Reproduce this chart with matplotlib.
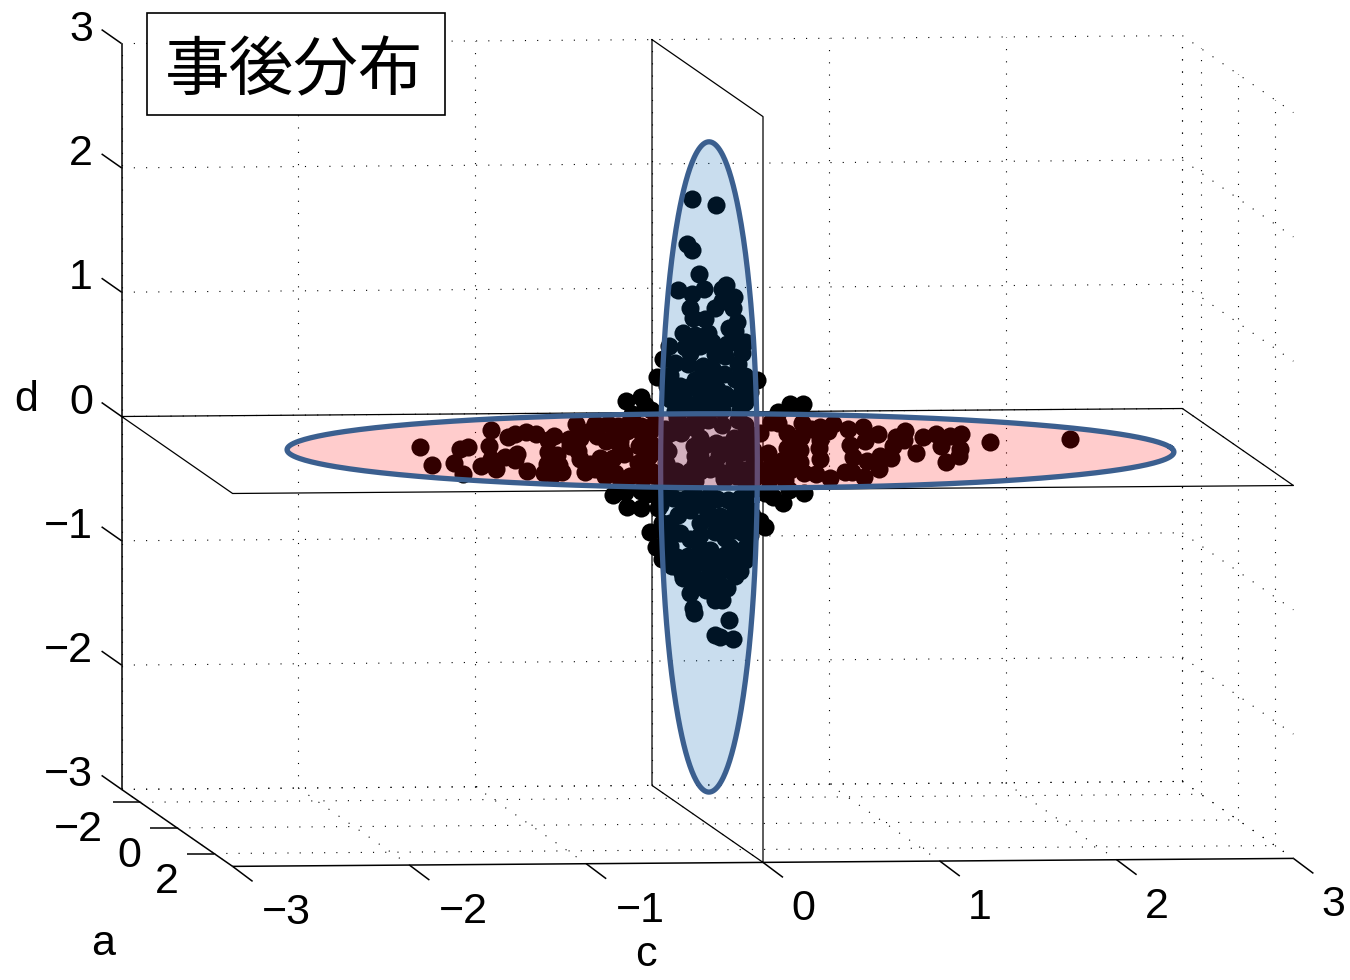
import numpy as np
import matplotlib
matplotlib.use('Agg')
import matplotlib.pyplot as plt
from matplotlib.patches import Rectangle

plt.rcParams['font.family'] = ['Liberation Sans', 'DejaVu Sans']

# axis ticks
a_ticks = [-2, 0, 2]
c_ticks = [-3, -2, -1, 0, 1, 2, 3]
d_ticks = [-3, -2, -1, 0, 1, 2, 3]
title = '事後分布'

# samples lying in the horizontal sheet (d = 0)
h_c = [-1.57, -1.65, -1.04, -1.51, -1.55, -1.37, -1.31, -1.18, -1.39, -1.33, -1.28, -1.18, -1.15, -1.09,
       -1.00, -0.94, -0.86, -0.82, -1.17, -0.80, -0.74, -0.90, -0.87, -1.00, -0.94, -1.09, -1.05, -0.98,
       -0.68, -0.52, -0.61, -0.73, -0.78, -0.85, -0.41, -0.34, -0.50, -0.38, -0.29, -0.66, -0.59, -0.49,
       -0.77, -0.70, -0.64, -0.49, -0.58, -0.49, -0.23, -0.08, -0.26, -0.28,
       -0.05, 0.06, 0.02, -0.12, 0.01, -0.88, -0.90, -0.83, -0.69, -0.65, -0.74, -0.79, -0.70,
       2.13, 1.65, 1.55, 1.48, 1.42, 1.32, 1.35, 1.43, 1.37, 1.25, 1.15, 1.27, 1.19, 1.17, 0.97, 1.08,
       0.81, 0.92, 1.09, 0.96, 0.81, 0.77, 0.84, 0.67, 0.64, 0.60, 1.06, 0.96, 0.92, 0.47, 0.57, 0.42,
       0.36, 0.20, 0.65, 0.83, 0.82, 0.76, 0.64, 0.47, 0.53, 0.62, 0.59, 0.59, 0.44, 0.32, 0.35, 0.14,
       0.22, 0.31, -0.02, -0.01, 0.00, 0.91, 0.84, 0.71, 0.14, -0.08,
       -0.06, 0.09, 0.11, 0.29, 0.06, 0.11, 0.25, 0.33, 0.26, 0.14, 0.03, -0.08, -0.05, 0.18, -0.20,
       -0.26, -0.09, -0.04, 0.17, -0.35, -0.13, -0.46, -0.33, -0.20, 0.42, 0.21, 0.05, -0.45, -0.30, -0.17,
       -0.70, -0.50, -0.41, -0.34, -0.49, -0.16, -0.19, -0.78, -0.37, -0.48, -0.37, -0.72, -0.06, 0.11,
       0.25, 0.42, -0.03, 0.14, 0.26, -0.13, 0.05, -0.17, 0.04, -0.42, -0.31, -0.04, 0.24, 0.11, 0.20,
       0.43, 0.75, 0.60, 0.72,
       0.00, -0.22, -0.11, -0.34, 0.03, -0.76, -0.65, -0.73, 0.43]
h_a = [-0.51, 0.90, -1.75, 0.74, 1.60, -0.27, -0.43, -0.51, 1.05, 1.29, 0.51, 0.35, 0.58, 0.12,
       -1.21, -1.44, -1.60, -1.44, 1.44, -0.97, -1.21, -0.04, 0.19, 0.90, 0.97, 1.60, 1.68, 1.52,
       -0.97, -2.14, -1.05, -0.04, 0.58, 1.52, -2.14, -2.14, -1.21, -1.44, -1.60, 0.51, 0.51, 0.19,
       1.83, 1.68, 1.91, 0.90, 2.07, 1.91, -1.36, -2.14, -0.58, -0.04,
       -3.94, -4.17, -3.55, -2.92, -3.16, 3.31, 4.25, 4.33, 3.31, 3.47, 4.40, 3.08, 3.08,
       -0.74, -0.51, -1.13, -1.05, -1.21, -0.97, -0.27, -0.04, 0.51, 0.97, 0.27, -1.44, -0.74, -0.97, 0.66, -0.27,
       1.52, 0.51, -1.21, -0.66, 0.90, 0.51, -0.35, 2.07, 1.68, 1.68, -1.75, -1.60, -1.99, 2.14, 0.66, 1.83,
       1.75, 3.31, -0.19, -1.44, -1.75, -2.14, -1.05, -0.19, -0.04, -2.14, -1.36, -2.22, -1.36, 0.19, 0.74, 1.75,
       1.68, 1.52, 3.31, 3.62, 4.09, -3.55, -3.55, -3.00, 3.08, 3.08,
       -1.75, -2.53, -1.75, -1.99, -0.97, -0.58, -0.97, -0.97, -0.04, 0.12, 0.35, 0.35, 0.90, 0.12, 1.52,
       1.52, 1.68, 1.91, 0.90, 2.14, 2.14, 2.14, 0.90, -0.43, -1.99, -2.38, 1.52, -0.43, -1.99, -1.99,
       -0.43, -1.60, -0.82, -0.43, -0.82, -1.60, -2.38, 1.36, 0.35, 1.52, 1.52, 2.14, -1.44, -1.99,
       -2.38, -2.38, -0.43, -0.43, -0.43, 1.36, 0.97, 0.97, 2.14, 2.30, 2.30, 2.46, 1.13, 2.30, 2.30,
       0.90, -1.60, -0.97, -0.82,
       -1.44, -0.04, 0.35, 1.52, -0.43, 0.90, 0.90, -0.43, 0.35]

# samples lying in the vertical sheet (c = 0)
v_a = [-0.84, 0.46, -1.11, -0.84, -0.46, -1.59, -0.84, -0.19, 1.00, 0.78, 1.43, -0.95, 0.78, 0.41, 1.38,
       -0.78, -0.14, 1.59, 1.16, -1.32, -0.68, 0.03, -2.08, -1.22, 0.24, 1.05, 1.65, -2.41, -1.76, -1.05,
       -0.24, 0.41, 0.95, 1.86, 1.65, -0.30, 0.89, -2.73, 2.68, 0.14, -2.19, -1.00, 1.86, 0.51, -0.41,
       -2.03, -1.22, -0.41, 0.41, 1.22, 2.03, -0.84, 0.78, 1.76, -1.76, 0.03,
       -1.86, -1.11, -0.30, 0.51, 1.76, -2.03, -1.59, -1.49, -0.95, -0.41, -0.03, 1.11, 1.92, 1.05, 1.76,
       0.95, 1.92, 2.03, 1.22, -0.41, -1.65, -1.05, -0.30, 0.51, 1.59, -1.38, -0.78, 0.14, 0.84, 1.49,
       -0.08, 1.05, 0.78, -0.95, -0.78, -0.73, 1.16, 0.41, 0.68, 1.38, 0.30, -1.32,
       -3.11, -2.78, 3.11, -2.46, -2.46, -2.57, 2.84, 2.41, 2.30, 2.03, -2.30, -1.92, -0.41, 0.41, 1.49, -0.95,
       -2.03, -1.49, -1.49, -0.68, -0.14, 0.95, 1.49, 2.03, 2.30, 0.24, -0.95, -0.41, 1.49, 2.03,
       -1.49, -0.68, 0.14, 2.30, -2.30, 0.41, 1.49, 0.68, 2.30, -0.41, -2.03, -1.22, 0.95, 0.14,
       2.19, 1.22, 1.76, -0.68, 0.68, 0.41, 2.03]
v_d = [1.94, 2.03, 1.55, 1.53, 1.38, 1.13, 1.18, 1.28, 1.44, 1.38, 1.39, 1.05, 1.29, 1.19, 1.29,
       0.99, 1.05, 1.20, 1.11, 0.81, 0.86, 0.95, 0.63, 0.71, 0.90, 0.97, 1.04, 0.49, 0.53, 0.59,
       0.66, 0.82, 0.86, 0.98, 0.87, 0.59, 0.71, 0.31, 0.85, 0.56, 0.30, 0.41, 0.68, 0.55, 0.43,
       0.21, 0.28, 0.35, 0.45, 0.55, 0.60, 0.24, 0.41, 0.51, 0.14, 0.33,
       -0.57, -0.49, -0.43, -0.33, -0.20, -0.79, -0.68, -0.81, -0.81, -0.62, -0.48, -0.28, -0.26, -0.47, -0.38,
       -0.60, -0.46, -0.57, -0.65, -0.82, -1.02, -0.95, -0.91, -0.80, -0.69, -1.12, -1.02, -0.94, -0.87, -0.85,
       -1.13, -0.99, -1.12, -1.24, -1.34, -1.38, -1.24, -1.44, -1.43, -1.37, -1.03, -1.16,
       -0.97, -1.06, -0.29, -1.12, -0.83, -0.70, -0.27, -0.27, -0.44, -0.67, -0.91, -1.12, -1.08, -0.52, -0.32, -0.57,
       0.40, 0.37, 0.27, 0.50, 0.43, 0.56, 0.73, 0.81, 0.71, 0.69, 0.69, 0.80, 1.12, 1.09,
       -0.55, -0.43, -0.34, -0.16, -0.59, -0.61, -0.48, -0.45, -0.32, -0.72, -0.97, -1.04, -0.74, -0.78,
       -0.57, -0.79, -0.78, -1.15, -1.01, -1.16, -0.43]

# ellipse centres and half widths
blue_a, blue_d, blue_sa, blue_sd, blue_tilt = 0.08, -0.12, 2.6, 2.63, 0.27
red_c, red_sc, red_sa = 0.13, 2.49, 2.88


# oblique view of the box, gives picture pixels
def project(a, c, d):
    a, c, d = np.asarray(a, float), np.asarray(c, float), np.asarray(d, float)
    x = 707.5 + 18.5 * a + 176.8 * c
    y = 451 + 12.83 * a - 1.33 * c - 124.3 * d
    return x, y


def line3(ax, a, c, d, **kw):
    x, y = project(a, c, d)
    ax.plot(x, y, **kw)


fig = plt.figure(figsize=(13.5, 9.8), dpi=100)
ax = fig.add_axes([0, 0, 1, 1])
ax.set_xlim(0, 1350)
ax.set_ylim(980, 0)
ax.axis('off')

# dotted grid on back wall, right wall and floor
grid = dict(color='black', lw=0.8, linestyle=(0, (1, 10)), zorder=1)
for d in d_ticks:
    line3(ax, [-3, -3], [-3, 3], [d, d], **grid)
    line3(ax, [-3, 3], [3, 3], [d, d], **grid)
for c in c_ticks:
    line3(ax, [-3, -3], [c, c], [-3, 3], **grid)
    line3(ax, [-3, 3], [c, c], [-3, -3], **grid)
for a in [-3] + a_ticks:
    line3(ax, [a, a], [3, 3], [-3, 3], **grid)
    line3(ax, [a, a], [-3, 3], [-3, -3], **grid)

# solid axis lines and ticks
solid = dict(color='black', lw=1.1, zorder=2, solid_capstyle='butt')
line3(ax, [-3, -3], [-3, -3], [-3, 3], **solid)
line3(ax, [-3, 3], [-3, -3], [-3, -3], **solid)
line3(ax, [3, 3], [-3, 3], [-3, -3], **solid)
for d in d_ticks:
    x, y = project(-3, -3, d)
    ax.plot([x, x - 20], [y, y - 14], **solid)
for c in c_ticks:
    x, y = project(3, c, -3)
    ax.plot([x, x + 20], [y, y + 15], **solid)
for a in a_ticks:
    x, y = project(a, -3, -3)
    ax.plot([x, x - 27], [y, y], **solid)

# the two sheets
sheet = dict(color='black', lw=0.9, zorder=2)
line3(ax, [-3, -3, 3, 3, -3], [-3, 3, 3, -3, -3], [0, 0, 0, 0, 0], **sheet)
line3(ax, [-3, 3, 3, -3, -3], [0, 0, 0, 0, 0], [3, 3, -3, -3, 3], **sheet)

# samples
x, y = project(h_a, h_c, np.zeros(len(h_c)))
ax.scatter(x, y, s=170, c='black', linewidths=0, zorder=3)
x, y = project(v_a, np.zeros(len(v_a)), v_d)
ax.scatter(x, y, s=170, c='black', linewidths=0, zorder=3)

# ellipses: blue first, red goes over its edge
t = np.linspace(0, 2 * np.pi, 400)
edge = '#3b5f8f'
x, y = project(blue_a + blue_sa * np.cos(t) + blue_tilt * np.sin(t), np.zeros_like(t), blue_d + blue_sd * np.sin(t))
ax.fill(x, y, color=(0, 0.39, 0.69), alpha=0.21, lw=0, zorder=4)
ax.plot(x, y, color=edge, lw=3.8, zorder=5)
x, y = project(red_sa * np.sin(t), red_c + red_sc * np.cos(t), np.zeros_like(t))
ax.fill(x, y, color=(1, 0, 0), alpha=0.2, lw=0, zorder=6)
ax.plot(x, y, color=edge, lw=3.8, zorder=7)

# tick labels
fs = 31
for d in d_ticks:
    x, y = project(-3, -3, d)
    ax.text(93, y - 14, str(d).replace('-', '\u2212'), fontsize=fs, ha='right', va='center')
for c in c_ticks:
    x, y = project(3, c, -3)
    ax.text(x + (54 if c < 0 else 40), y + 47, str(c).replace('-', '\u2212'), fontsize=fs, ha='center', va='center')
for a, (lx, ly) in zip(a_ticks, [(78, 830), (129, 856), (167, 882)]):
    ax.text(lx, ly, str(a).replace('-', '\u2212'), fontsize=fs, ha='center', va='center')
ax.text(26, 400, 'd', fontsize=fs, ha='center', va='center')
ax.text(103, 944, 'a', fontsize=fs, ha='center', va='center')
ax.text(646, 955, 'c', fontsize=fs, ha='center', va='center')

# title box
ax.add_patch(Rectangle((147, 13), 298, 102, fc='white', ec='black', lw=1.2, zorder=8))
ax.text(294, 72, title, fontsize=46.5, ha='center', va='center', zorder=9,
        family=['Noto Sans CJK JP', 'DejaVu Sans'])

fig.savefig('out.png', dpi=100)
